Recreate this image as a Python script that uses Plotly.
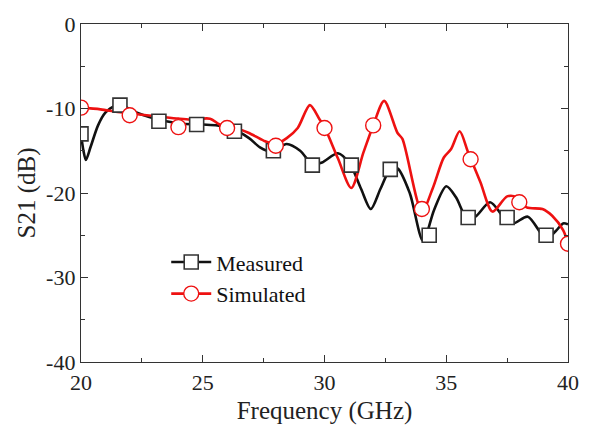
import plotly.graph_objects as go

# Measured (black) line
meas_x = [20.0, 20.1, 20.2, 20.4, 20.7, 21.0, 21.4, 21.8, 22.3, 22.8, 23.5, 24.2, 25.0, 25.6, 26.2,
          26.9, 27.35, 27.8, 28.45, 29.0, 29.5, 29.9, 30.55, 31.05, 31.5, 31.9, 32.3, 32.7, 33.0,
          33.5, 34.05, 34.5, 35.0, 35.4, 35.85, 36.2, 36.8, 37.4, 37.75, 38.35, 39.1, 39.5, 39.8, 40.0]
meas_y = [-13.0, -15.0, -16.1, -14.5, -12.0, -10.5, -9.7, -9.8, -10.5, -11.0, -11.5, -11.8, -11.9, -12.0, -12.4,
          -13.5, -14.6, -15.1, -14.2, -15.0, -16.6, -16.4, -15.3, -16.6, -19.5, -21.9, -19.5, -17.2, -17.1,
          -20.0, -25.7, -22.0, -19.2, -20.5, -23.0, -22.8, -21.1, -23.0, -23.6, -22.8, -25.4, -24.5, -23.6, -23.7]
meas_mx = [20.0, 21.6, 23.2, 24.75, 26.3, 27.9, 29.5, 31.1, 32.7, 34.3, 35.9, 37.5, 39.1]
meas_my = [-13.0, -9.6, -11.5, -11.9, -12.7, -15.0, -16.7, -16.7, -17.2, -25.0, -22.9, -22.9, -25.0]

# Simulated (red) line
sim_x = [20.0, 20.8, 21.5, 22.4, 23.2, 24.0, 24.5, 25.3, 25.7, 26.5, 26.9, 27.5, 28.0, 28.45, 28.9,
         29.4, 29.8, 30.0, 30.55, 31.1, 31.6, 32.0, 32.45, 33.0, 33.2, 34.0, 34.45, 34.9, 35.2, 35.55,
         35.9, 36.4, 36.9, 37.5, 37.9, 38.3, 38.95, 39.35, 39.8, 40.0]
sim_y = [-9.9, -10.1, -10.4, -10.7, -10.95, -11.2, -11.3, -11.2, -11.9, -12.45, -12.9, -13.8, -14.2, -13.5, -12.3,
         -9.6, -11.3, -12.2, -15.9, -19.4, -15.2, -12.0, -9.1, -12.9, -13.6, -22.2, -19.4, -15.8, -14.8, -12.7,
         -15.2, -18.7, -22.2, -20.4, -20.5, -21.7, -21.9, -22.7, -24.4, -26.0]
sim_mx = [20, 22, 24, 26, 28, 30, 32, 34, 36, 38, 40]
sim_my = [-9.9, -10.8, -12.2, -12.3, -14.4, -12.3, -12.0, -21.9, -16.0, -21.1, -26.0]

x_ticks = [20, 25, 30, 35, 40]
y_ticks = [0, -10, -20, -30, -40]

FONT = "Liberation Serif"
BLACK = "#111111"
RED = "#ee1111"

fig = go.Figure()
fig.add_trace(go.Scatter(x=meas_x, y=meas_y, mode="lines", line=dict(color=BLACK, width=2.6, shape="spline", smoothing=0.8),
                         showlegend=False, hoverinfo="skip"))
fig.add_trace(go.Scatter(x=sim_x, y=sim_y, mode="lines", line=dict(color=RED, width=2.6, shape="spline", smoothing=0.8),
                         showlegend=False, hoverinfo="skip"))
fig.add_trace(go.Scatter(x=meas_mx, y=meas_my, mode="markers",
                         marker=dict(symbol="square", size=14, color="white", line=dict(color="#333333", width=1.6)),
                         showlegend=False))
fig.add_trace(go.Scatter(x=sim_mx, y=sim_my, mode="markers",
                         marker=dict(symbol="circle", size=15, color="white", line=dict(color=RED, width=1.4)),
                         showlegend=False))
# legend entries
fig.add_trace(go.Scatter(x=[None], y=[None], mode="lines+markers", name="Measured",
                         line=dict(color=BLACK, width=2.6),
                         marker=dict(symbol="square", size=14, color="white", line=dict(color="#333333", width=1.6))))
fig.add_trace(go.Scatter(x=[None], y=[None], mode="lines+markers", name="Simulated",
                         line=dict(color=RED, width=2.6),
                         marker=dict(symbol="circle", size=15, color="white", line=dict(color=RED, width=1.4))))

axis_common = dict(showgrid=False, zeroline=False, showline=True, linecolor="#333333", linewidth=1.3,
                   mirror="ticks", ticks="inside", ticklen=7, tickwidth=1.2, tickcolor="#333333",
                   tickfont=dict(family=FONT, size=22, color="#222222"))

fig.update_xaxes(range=[20, 40], tickvals=x_ticks, ticktext=[str(v) for v in x_ticks],
                 minor=dict(ticks="inside", ticklen=4, tickwidth=1, tickcolor="#333333", dtick=2.5, tick0=20),
                 title=dict(text="Frequency (GHz)", font=dict(family=FONT, size=25, color="#222222"), standoff=7),
                 **axis_common)
fig.update_yaxes(range=[-40, 0], tickvals=y_ticks, ticktext=[str(v) for v in y_ticks],
                 minor=dict(ticks="inside", ticklen=4, tickwidth=1, tickcolor="#333333", dtick=5, tick0=0),
                 title=dict(text="S21 (dB)", font=dict(family=FONT, size=25, color="#222222"), standoff=3),
                 **axis_common)

fig.update_layout(
    width=596, height=435,
    margin=dict(l=81, r=28, t=15, b=73),
    paper_bgcolor="white", plot_bgcolor="white",
    legend=dict(x=0.175, y=0.248, xanchor="left", yanchor="middle", bgcolor="rgba(0,0,0,0)",
                font=dict(family=FONT, size=22, color="#111111"), tracegroupgap=0, itemwidth=40),
)

fig.write_html("out.html")
